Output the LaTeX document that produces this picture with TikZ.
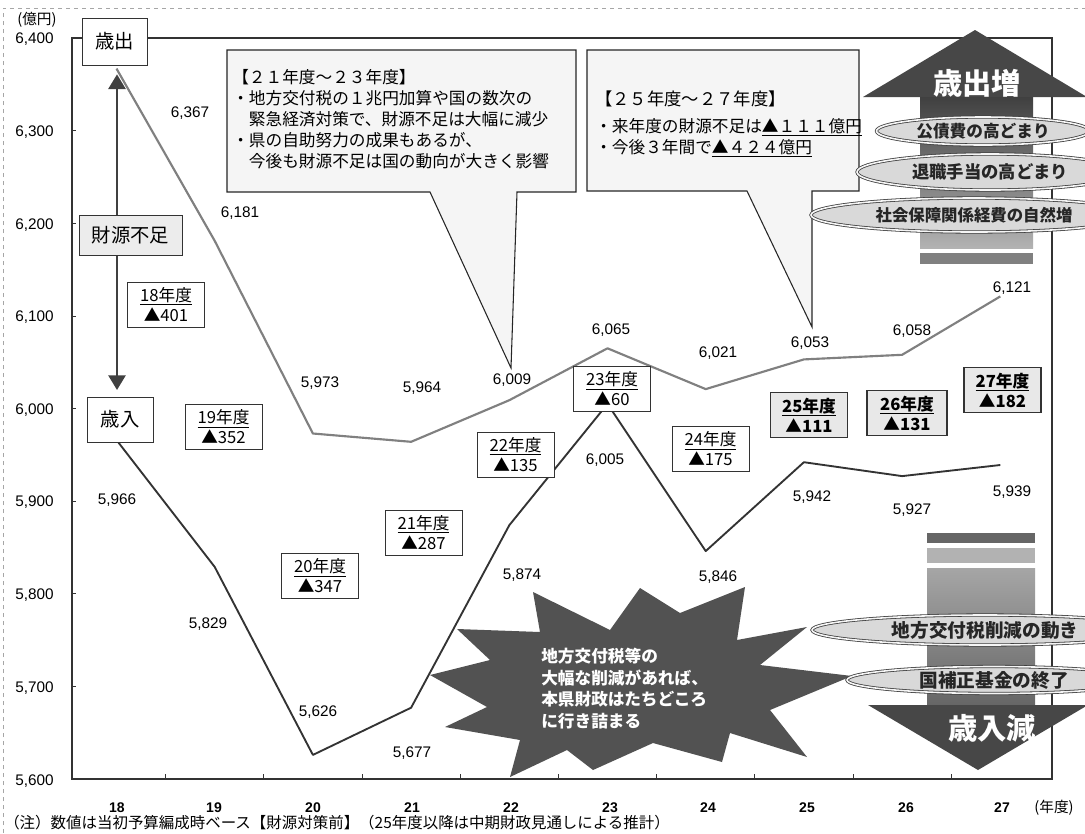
\documentclass[tikz,border=0pt]{standalone}
\usepackage{fontspec}
\setmainfont{Liberation Sans}
\newfontfamily\jp{Noto Sans CJK JP}
\usetikzlibrary{arrows.meta,shapes.geometric}
\begin{document}
\begin{tikzpicture}[x=0.75pt,y=-0.75pt,
  num/.style={font=\fontsize{11.5}{13}\selectfont, inner sep=0pt},
  ylab/.style={num, anchor=east},
  xlab/.style={font=\bfseries\fontsize{10.5}{12}\selectfont, inner sep=0pt},
  yearbox/.style={draw=black!80, line width=0.6pt, fill=white, minimum width=57.75pt, minimum height=33.75pt, align=center, inner sep=0pt, font=\jp\fontsize{12.5}{15}\selectfont},
  futbox/.style={yearbox, fill=gray!18, line width=1.1pt, font=\jp\bfseries\fontsize{12.5}{15}\selectfont},
  labelbox/.style={draw=black!80, line width=0.6pt, fill=white, inner sep=0pt, font=\jp\fontsize{14.5}{16}\selectfont},
  spend/.style={draw=black!50, line width=1.6pt, line join=round},
  rev/.style={draw=black!80, line width=1.4pt, line join=round},
  callout/.style={draw=black!85, line width=0.8pt, fill=gray!8, line join=miter},
  ctext/.style={font=\jp\fontsize{12.5}{15.75}\selectfont, align=left, inner sep=0pt, anchor=north west},
  factor/.style={ellipse, draw=black!75, double=gray!8, double distance=1.2pt, line width=0.6pt, fill=gray!30, inner sep=0pt, text=black!85},
  bigword/.style={font=\jp\bfseries\fontsize{22}{24}\selectfont, text=white, inner sep=0pt},
  dblarrow/.style={draw=black!75, line width=1.3pt, {Triangle[width=13pt,length=11pt]}-{Triangle[width=13pt,length=11pt]}},
]
\useasboundingbox (0,0) rectangle (1085,833);
\clip (0,0) rectangle (1085,833);
\fill[white] (0,0) rectangle (1085,833);

% outer frame of the chart
\draw[black!35, dashed, line width=0.5pt] (3,833) -- (3,8) -- (1085,8);

% plot frame and ticks
\draw[black!80, line width=1.1pt] (72,38) rectangle (1052,779);
\foreach \yy in {130.6,223.2,315.9,408.5,501.1,593.8,686.4}
  \draw[black!80, line width=0.6pt] (72,\yy) -- (76,\yy);
\foreach \xx in {165.6,263.8,362,460.2,558.4,656.6,754.8,853,951.2}
  \draw[black!80, line width=0.6pt] (\xx,779) -- (\xx,774);

% axis labels
\node[font=\jp\fontsize{11}{12}\selectfont, inner sep=0pt] (unit) at (37,20) {(億円)};
\foreach \v/\yy in {6{,}400/39,6{,}300/132,6{,}200/225,6{,}100/317,6{,}000/410,5{,}900/502,5{,}800/595,5{,}700/688,5{,}600/781}
  \node[ylab] at (54,\yy) {\v};
\foreach \t/\xx in {18/117,19/214,20/313,21/412,22/511,23/610,24/708,25/807,26/906,27/1002}
  \node[xlab] at (\xx,808) {\t};
\node[font=\jp\fontsize{11}{12}\selectfont, inner sep=0pt] (nendo) at (1054,808) {(年度)};
\node[font=\jp\fontsize{11.6}{12}\selectfont, inner sep=0pt, anchor=west] (note) at (4,823) {（注）数値は当初予算編成時ベース【財源対策前】（25年度以降は中期財政見通しによる推計）};

% data lines
\draw[spend] (116.5,68.6) -- (214.7,240.8) -- (312.9,433.5) -- (411.1,441.8) -- (509.3,400.2) -- (607.5,348.3) -- (705.7,389.1) -- (803.9,359.4) -- (902.1,354.8) -- (1000.3,296.4);
\draw[rev] (116.5,440) -- (214.7,566.9) -- (312.9,754.9) -- (411.1,707.7) -- (509.3,525.2) -- (607.5,403.9) -- (705.7,551.1) -- (803.9,462.2) -- (902.1,476.1) -- (1000.3,465);

% data value labels
\node[num] at (190,113) {6,367};
\node[num] at (240,213) {6,181};
\node[num] at (320,383) {5,973};
\node[num] at (422,388) {5,964};
\node[num] at (512,380) {6,009};
\node[num] at (611,330) {6,065};
\node[num] at (718,353) {6,021};
\node[num] at (810,343) {6,053};
\node[num] at (912,331) {6,058};
\node[num] at (1012,288) {6,121};
\node[num] at (117,500) {5,966};
\node[num] at (208,624) {5,829};
\node[num] at (318,712) {5,626};
\node[num] at (412,753) {5,677};
\node[num] at (522,575) {5,874};
\node[num] at (605,460) {6,005};
\node[num] at (718,577) {5,846};
\node[num] at (812,497) {5,942};
\node[num] at (912,510) {5,927};
\node[num] at (1012,492) {5,939};

% callouts
\draw[callout] (227,50) -- (576,50) -- (576,192) -- (517,192) -- (511,368) -- (430,192) -- (227,192) -- cycle;
\node[ctext] (c1text) at (232,69) {【２１年度～２３年度】\\・地方交付税の１兆円加算や国の数次の\\　緊急経済対策で、財源不足は大幅に減少\\・県の自助努力の成果もあるが、\\　今後も財源不足は国の動向が大きく影響};
\draw[callout] (587,50) -- (859,50) -- (859,191) -- (812,191) -- (812,327) -- (747,191) -- (587,191) -- cycle;
\node[ctext, font=\jp\fontsize{13}{15}\selectfont] (c2title) at (595,91) {【２５年度～２７年度】};
\node[ctext] (c2text) at (595,118) {・来年度の財源不足は\underline{▲１１１億円}\\・今後３年間で\underline{▲４２４億円}};

% label boxes and the shortfall arrow
\coordinate (ax) at (117,0);
\node[labelbox, minimum width=48.75pt, minimum height=35.25pt] (saishutsu) at (114.5,41.5) {歳出};
\node[labelbox, minimum width=49.5pt, minimum height=33.75pt] (sainyu) at (120,419.5) {歳入};
\draw[dblarrow, shorten <=6.75pt, shorten >=5pt] (saishutsu.south -| ax) -- (sainyu.north -| ax);
\node[labelbox, fill=gray!15, minimum width=77.25pt, minimum height=30pt] (fusoku) at (130.5,235) {財源不足};

% year boxes
\node[yearbox] (y18) at (166,304.5) {\underline{18年度}\\▲401};
\node[yearbox] (y19) at (223.5,427) {\underline{19年度}\\▲352};
\node[yearbox] (y20) at (320,576) {\underline{20年度}\\▲347};
\node[yearbox] (y21) at (423.5,532.5) {\underline{21年度}\\▲287};
\node[yearbox] (y22) at (515.5,454.5) {\underline{22年度}\\▲135};
\node[yearbox] (y23) at (612,389) {\underline{23年度}\\▲60};
\node[yearbox] (y24) at (710.5,449) {\underline{24年度}\\▲175};
\node[futbox] (y25) at (809,415) {\underline{25年度}\\▲111};
\node[futbox, minimum width=60pt] (y26) at (907,413) {\underline{26年度}\\▲131};
\node[futbox] (y27) at (1002.5,390) {\underline{27年度}\\▲182};

% starburst warning
\fill[black!68] (457,629) -- (540,632) -- (533,592) -- (610,630) -- (640,588) -- (680,613) -- (745,587) -- (737,640) -- (807,627) -- (760,665) -- (852,676) -- (770,710) -- (807,757) -- (730,733) -- (722,762) -- (653,743) -- (593,770) -- (567,750) -- (510,777) -- (520,740) -- (445,727) -- (487,707) -- (430,675) -- (490,660) -- cycle;
\node[font=\jp\bfseries\fontsize{12.5}{16.1}\selectfont, text=white, align=left, anchor=north west, inner sep=0pt] (warn) at (541,648) {地方交付税等の\\大幅な削減があれば、\\本県財政はたちどころ\\に行き詰まる};

% expenditure-increase arrow
\shade[top color=black!75, bottom color=black!30] (920,97) rectangle (1033,248);
\fill[black!50] (920,253) rectangle (1033,264);
\fill[black!72] (863,97) -- (975,30) -- (1087,97) -- cycle;
\node[bigword] (zoushutsu) at (977,83) {歳出増};
\node[factor, minimum width=159.75pt, minimum height=21pt, font=\jp\bfseries\fontsize{12.5}{14}\selectfont] (e1) at (983,131) {公債費の高どまり};
\node[factor, minimum width=199.5pt, minimum height=27pt, font=\jp\bfseries\fontsize{13}{14}\selectfont] (e2) at (990,172) {退職手当の高どまり};
\node[factor, minimum width=244.5pt, minimum height=25.5pt, font=\jp\bfseries\fontsize{12.3}{14}\selectfont] (e3) at (974,215) {社会保障関係経費の自然増};

% revenue-decrease arrow
\fill[black!60] (927,533) rectangle (1035,543);
\fill[black!30] (927,548) rectangle (1035,563);
\shade[top color=black!35, bottom color=black!60] (927,568) rectangle (1035,705);
\fill[black!72] (868,705) -- (1088,705) -- (978,770) -- cycle;
\node[bigword] (gennyu) at (992,728) {歳入減};
\node[factor, minimum width=259.5pt, minimum height=22.5pt, font=\jp\bfseries\fontsize{14}{15}\selectfont] (e4) at (985,630) {地方交付税削減の動き};
\node[factor, minimum width=220.5pt, minimum height=20.25pt, font=\jp\bfseries\fontsize{14}{15}\selectfont] (e5) at (994,680) {国補正基金の終了};
\end{tikzpicture}
\end{document}
